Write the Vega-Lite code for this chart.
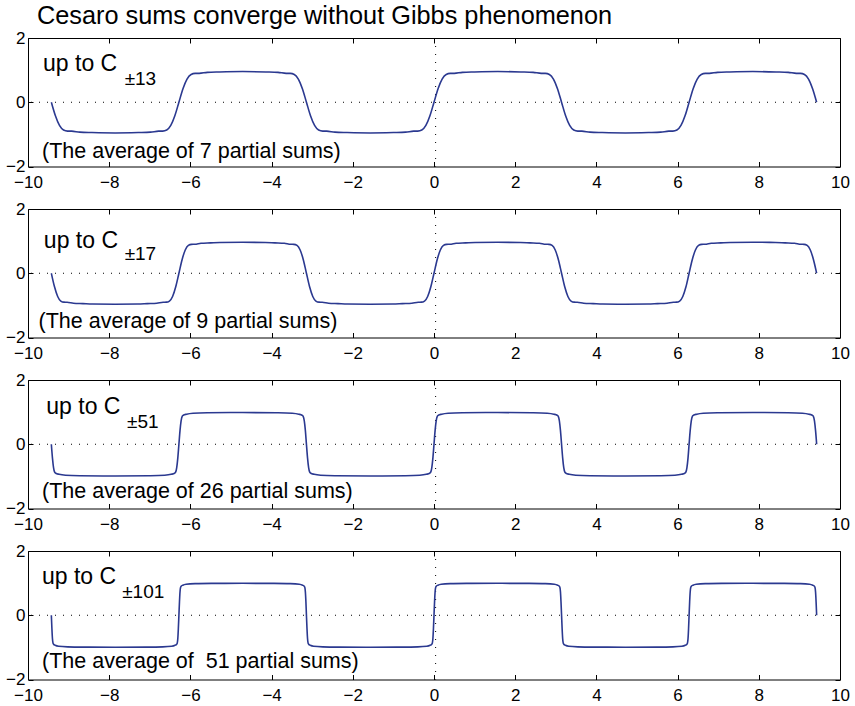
{
  "$schema": "https://vega.github.io/schema/vega-lite/v6.json",
  "padding": {"top": 3, "left": 5, "right": 5, "bottom": 5},
  "background": "white",
  "spacing": 42,
  "bounds": "flush",
  "config": {
    "font": "Liberation Sans",
    "view": {"stroke": "black", "strokeWidth": 1},
    "axis": {"domain": false, "grid": false, "ticks": true, "tickSize": -5, "tickColor": "black", "tickWidth": 1, "labelFont": "Liberation Sans", "labelFontSize": 17, "labelColor": "black", "labelFlush": false, "labelOverlap": false}
  },
  "datasets": {
    "c13": [
      {"x":-9.4248,"y":0},{"x":-9.3248,"y":-0.422},{"x":-9.2248,"y":-0.723},{"x":-9.1248,"y":-0.866},{"x":-9.0248,"y":-0.899},{"x":-8.9248,"y":-0.900},{"x":-8.7248,"y":-0.931},{"x":-8.4248,"y":-0.943},{"x":-7.854,"y":-0.955},{"x":-7.2832,"y":-0.943},{"x":-6.9832,"y":-0.931},{"x":-6.7832,"y":-0.900},{"x":-6.6832,"y":-0.899},{"x":-6.5832,"y":-0.866},{"x":-6.4832,"y":-0.723},{"x":-6.3832,"y":-0.422},
      {"x":-6.2832,"y":0},{"x":-6.1832,"y":0.422},{"x":-6.0832,"y":0.723},{"x":-5.9832,"y":0.866},{"x":-5.8832,"y":0.899},{"x":-5.7832,"y":0.900},{"x":-5.5832,"y":0.931},{"x":-5.2832,"y":0.943},{"x":-4.7124,"y":0.955},{"x":-4.1416,"y":0.943},{"x":-3.8416,"y":0.931},{"x":-3.6416,"y":0.900},{"x":-3.5416,"y":0.899},{"x":-3.4416,"y":0.866},{"x":-3.3416,"y":0.723},{"x":-3.2416,"y":0.422},
      {"x":-3.1416,"y":0},{"x":-3.0416,"y":-0.422},{"x":-2.9416,"y":-0.723},{"x":-2.8416,"y":-0.866},{"x":-2.7416,"y":-0.899},{"x":-2.6416,"y":-0.900},{"x":-2.4416,"y":-0.931},{"x":-2.1416,"y":-0.943},{"x":-1.5708,"y":-0.955},{"x":-1.0,"y":-0.943},{"x":-0.7,"y":-0.931},{"x":-0.5,"y":-0.900},{"x":-0.4,"y":-0.899},{"x":-0.3,"y":-0.866},{"x":-0.2,"y":-0.723},{"x":-0.1,"y":-0.422},
      {"x":0,"y":0},{"x":0.1,"y":0.422},{"x":0.2,"y":0.723},{"x":0.3,"y":0.866},{"x":0.4,"y":0.899},{"x":0.5,"y":0.900},{"x":0.7,"y":0.931},{"x":1.0,"y":0.943},{"x":1.5708,"y":0.955},{"x":2.1416,"y":0.943},{"x":2.4416,"y":0.931},{"x":2.6416,"y":0.900},{"x":2.7416,"y":0.899},{"x":2.8416,"y":0.866},{"x":2.9416,"y":0.723},{"x":3.0416,"y":0.422},
      {"x":3.1416,"y":0},{"x":3.2416,"y":-0.422},{"x":3.3416,"y":-0.723},{"x":3.4416,"y":-0.866},{"x":3.5416,"y":-0.899},{"x":3.6416,"y":-0.900},{"x":3.8416,"y":-0.931},{"x":4.1416,"y":-0.943},{"x":4.7124,"y":-0.955},{"x":5.2832,"y":-0.943},{"x":5.5832,"y":-0.931},{"x":5.7832,"y":-0.900},{"x":5.8832,"y":-0.899},{"x":5.9832,"y":-0.866},{"x":6.0832,"y":-0.723},{"x":6.1832,"y":-0.422},
      {"x":6.2832,"y":0},{"x":6.3832,"y":0.422},{"x":6.4832,"y":0.723},{"x":6.5832,"y":0.866},{"x":6.6832,"y":0.899},{"x":6.7832,"y":0.900},{"x":6.9832,"y":0.931},{"x":7.2832,"y":0.943},{"x":7.854,"y":0.955},{"x":8.4248,"y":0.943},{"x":8.7248,"y":0.931},{"x":8.9248,"y":0.900},{"x":9.0248,"y":0.899},{"x":9.1248,"y":0.866},{"x":9.2248,"y":0.723},{"x":9.3248,"y":0.422},{"x":9.4248,"y":0}
    ],
    "c17": [
      {"x":-9.425,"y":0},{"x":-9.347,"y":-0.422},{"x":-9.269,"y":-0.724},{"x":-9.192,"y":-0.867},{"x":-9.114,"y":-0.900},{"x":-9.036,"y":-0.901},{"x":-8.881,"y":-0.933},{"x":-8.647,"y":-0.946},{"x":-8.414,"y":-0.959},{"x":-7.854,"y":-0.965},{"x":-7.294,"y":-0.959},{"x":-7.061,"y":-0.946},{"x":-6.828,"y":-0.933},{"x":-6.672,"y":-0.901},{"x":-6.594,"y":-0.900},{"x":-6.516,"y":-0.867},{"x":-6.439,"y":-0.724},{"x":-6.361,"y":-0.422},
      {"x":-6.283,"y":0},{"x":-6.205,"y":0.422},{"x":-6.127,"y":0.724},{"x":-6.050,"y":0.867},{"x":-5.972,"y":0.900},{"x":-5.894,"y":0.901},{"x":-5.739,"y":0.933},{"x":-5.505,"y":0.946},{"x":-5.272,"y":0.959},{"x":-4.712,"y":0.965},{"x":-4.152,"y":0.959},{"x":-3.919,"y":0.946},{"x":-3.686,"y":0.933},{"x":-3.530,"y":0.901},{"x":-3.452,"y":0.900},{"x":-3.374,"y":0.867},{"x":-3.297,"y":0.724},{"x":-3.219,"y":0.422},
      {"x":-3.142,"y":0},{"x":-3.064,"y":-0.422},{"x":-2.986,"y":-0.724},{"x":-2.909,"y":-0.867},{"x":-2.831,"y":-0.900},{"x":-2.753,"y":-0.901},{"x":-2.598,"y":-0.933},{"x":-2.364,"y":-0.946},{"x":-2.131,"y":-0.959},{"x":-1.571,"y":-0.965},{"x":-1.011,"y":-0.959},{"x":-0.778,"y":-0.946},{"x":-0.544,"y":-0.933},{"x":-0.389,"y":-0.901},{"x":-0.311,"y":-0.900},{"x":-0.233,"y":-0.867},{"x":-0.156,"y":-0.724},{"x":-0.078,"y":-0.422},
      {"x":0,"y":0},{"x":0.078,"y":0.422},{"x":0.156,"y":0.724},{"x":0.233,"y":0.867},{"x":0.311,"y":0.900},{"x":0.389,"y":0.901},{"x":0.544,"y":0.933},{"x":0.778,"y":0.946},{"x":1.011,"y":0.959},{"x":1.571,"y":0.965},{"x":2.131,"y":0.959},{"x":2.364,"y":0.946},{"x":2.597,"y":0.933},{"x":2.753,"y":0.901},{"x":2.831,"y":0.900},{"x":2.909,"y":0.867},{"x":2.986,"y":0.724},{"x":3.064,"y":0.422},
      {"x":3.142,"y":0},{"x":3.220,"y":-0.422},{"x":3.298,"y":-0.724},{"x":3.375,"y":-0.867},{"x":3.453,"y":-0.900},{"x":3.531,"y":-0.901},{"x":3.686,"y":-0.933},{"x":3.920,"y":-0.946},{"x":4.153,"y":-0.959},{"x":4.713,"y":-0.965},{"x":5.273,"y":-0.959},{"x":5.506,"y":-0.946},{"x":5.739,"y":-0.933},{"x":5.895,"y":-0.901},{"x":5.973,"y":-0.900},{"x":6.051,"y":-0.867},{"x":6.128,"y":-0.724},{"x":6.206,"y":-0.422},
      {"x":6.283,"y":0},{"x":6.361,"y":0.422},{"x":6.439,"y":0.724},{"x":6.516,"y":0.867},{"x":6.594,"y":0.900},{"x":6.672,"y":0.901},{"x":6.827,"y":0.933},{"x":7.061,"y":0.946},{"x":7.294,"y":0.959},{"x":7.854,"y":0.965},{"x":8.414,"y":0.959},{"x":8.647,"y":0.946},{"x":8.880,"y":0.933},{"x":9.036,"y":0.901},{"x":9.114,"y":0.900},{"x":9.192,"y":0.867},{"x":9.269,"y":0.724},{"x":9.347,"y":0.422},{"x":9.425,"y":0}
    ],
    "c51": [
      {"x":-9.425,"y":0},{"x":-9.398,"y":-0.422},{"x":-9.371,"y":-0.725},{"x":-9.344,"y":-0.868},{"x":-9.317,"y":-0.902},{"x":-9.235,"y":-0.936},{"x":-9.075,"y":-0.966},{"x":-8.725,"y":-0.981},{"x":-7.854,"y":-0.988},{"x":-6.983,"y":-0.981},{"x":-6.633,"y":-0.966},{"x":-6.473,"y":-0.936},{"x":-6.391,"y":-0.902},{"x":-6.364,"y":-0.868},{"x":-6.337,"y":-0.725},{"x":-6.310,"y":-0.422},
      {"x":-6.283,"y":0},{"x":-6.256,"y":0.422},{"x":-6.229,"y":0.725},{"x":-6.202,"y":0.868},{"x":-6.175,"y":0.902},{"x":-6.093,"y":0.936},{"x":-5.933,"y":0.966},{"x":-5.583,"y":0.981},{"x":-4.712,"y":0.988},{"x":-3.841,"y":0.981},{"x":-3.491,"y":0.966},{"x":-3.331,"y":0.936},{"x":-3.249,"y":0.902},{"x":-3.222,"y":0.868},{"x":-3.195,"y":0.725},{"x":-3.168,"y":0.422},
      {"x":-3.142,"y":0},{"x":-3.115,"y":-0.422},{"x":-3.088,"y":-0.725},{"x":-3.061,"y":-0.868},{"x":-3.034,"y":-0.902},{"x":-2.952,"y":-0.936},{"x":-2.792,"y":-0.966},{"x":-2.442,"y":-0.981},{"x":-1.571,"y":-0.988},{"x":-0.7,"y":-0.981},{"x":-0.35,"y":-0.966},{"x":-0.19,"y":-0.936},{"x":-0.108,"y":-0.902},{"x":-0.081,"y":-0.868},{"x":-0.054,"y":-0.725},{"x":-0.027,"y":-0.422},
      {"x":0,"y":0},{"x":0.027,"y":0.422},{"x":0.054,"y":0.725},{"x":0.081,"y":0.868},{"x":0.108,"y":0.902},{"x":0.19,"y":0.936},{"x":0.35,"y":0.966},{"x":0.7,"y":0.981},{"x":1.571,"y":0.988},{"x":2.442,"y":0.981},{"x":2.792,"y":0.966},{"x":2.952,"y":0.936},{"x":3.034,"y":0.902},{"x":3.061,"y":0.868},{"x":3.088,"y":0.725},{"x":3.115,"y":0.422},
      {"x":3.142,"y":0},{"x":3.169,"y":-0.422},{"x":3.196,"y":-0.725},{"x":3.223,"y":-0.868},{"x":3.250,"y":-0.902},{"x":3.332,"y":-0.936},{"x":3.492,"y":-0.966},{"x":3.842,"y":-0.981},{"x":4.713,"y":-0.988},{"x":5.584,"y":-0.981},{"x":5.934,"y":-0.966},{"x":6.094,"y":-0.936},{"x":6.176,"y":-0.902},{"x":6.203,"y":-0.868},{"x":6.230,"y":-0.725},{"x":6.257,"y":-0.422},
      {"x":6.283,"y":0},{"x":6.310,"y":0.422},{"x":6.337,"y":0.725},{"x":6.364,"y":0.868},{"x":6.391,"y":0.902},{"x":6.473,"y":0.936},{"x":6.633,"y":0.966},{"x":6.983,"y":0.981},{"x":7.854,"y":0.988},{"x":8.725,"y":0.981},{"x":9.075,"y":0.966},{"x":9.235,"y":0.936},{"x":9.317,"y":0.902},{"x":9.344,"y":0.868},{"x":9.371,"y":0.725},{"x":9.398,"y":0.422},{"x":9.425,"y":0}
    ],
    "c101": [
      {"x":-9.425,"y":0},{"x":-9.411,"y":-0.422},{"x":-9.398,"y":-0.725},{"x":-9.384,"y":-0.868},{"x":-9.370,"y":-0.902},{"x":-9.329,"y":-0.936},{"x":-9.247,"y":-0.966},{"x":-9.025,"y":-0.984},{"x":-8.625,"y":-0.991},{"x":-7.854,"y":-0.994},{"x":-7.083,"y":-0.991},{"x":-6.683,"y":-0.984},{"x":-6.461,"y":-0.966},{"x":-6.379,"y":-0.936},{"x":-6.338,"y":-0.902},{"x":-6.324,"y":-0.868},{"x":-6.310,"y":-0.725},{"x":-6.297,"y":-0.422},
      {"x":-6.283,"y":0},{"x":-6.269,"y":0.422},{"x":-6.256,"y":0.725},{"x":-6.242,"y":0.868},{"x":-6.228,"y":0.902},{"x":-6.187,"y":0.936},{"x":-6.105,"y":0.966},{"x":-5.883,"y":0.984},{"x":-5.483,"y":0.991},{"x":-4.712,"y":0.994},{"x":-3.941,"y":0.991},{"x":-3.541,"y":0.984},{"x":-3.319,"y":0.966},{"x":-3.237,"y":0.936},{"x":-3.196,"y":0.902},{"x":-3.182,"y":0.868},{"x":-3.168,"y":0.725},{"x":-3.155,"y":0.422},
      {"x":-3.142,"y":0},{"x":-3.128,"y":-0.422},{"x":-3.115,"y":-0.725},{"x":-3.101,"y":-0.868},{"x":-3.087,"y":-0.902},{"x":-3.046,"y":-0.936},{"x":-2.964,"y":-0.966},{"x":-2.742,"y":-0.984},{"x":-2.342,"y":-0.991},{"x":-1.571,"y":-0.994},{"x":-0.8,"y":-0.991},{"x":-0.4,"y":-0.984},{"x":-0.178,"y":-0.966},{"x":-0.096,"y":-0.936},{"x":-0.055,"y":-0.902},{"x":-0.041,"y":-0.868},{"x":-0.027,"y":-0.725},{"x":-0.014,"y":-0.422},
      {"x":0,"y":0},{"x":0.014,"y":0.422},{"x":0.027,"y":0.725},{"x":0.041,"y":0.868},{"x":0.055,"y":0.902},{"x":0.096,"y":0.936},{"x":0.178,"y":0.966},{"x":0.4,"y":0.984},{"x":0.8,"y":0.991},{"x":1.571,"y":0.994},{"x":2.342,"y":0.991},{"x":2.742,"y":0.984},{"x":2.964,"y":0.966},{"x":3.046,"y":0.936},{"x":3.087,"y":0.902},{"x":3.101,"y":0.868},{"x":3.115,"y":0.725},{"x":3.128,"y":0.422},
      {"x":3.142,"y":0},{"x":3.156,"y":-0.422},{"x":3.169,"y":-0.725},{"x":3.183,"y":-0.868},{"x":3.197,"y":-0.902},{"x":3.238,"y":-0.936},{"x":3.320,"y":-0.966},{"x":3.542,"y":-0.984},{"x":3.942,"y":-0.991},{"x":4.713,"y":-0.994},{"x":5.484,"y":-0.991},{"x":5.884,"y":-0.984},{"x":6.106,"y":-0.966},{"x":6.188,"y":-0.936},{"x":6.229,"y":-0.902},{"x":6.243,"y":-0.868},{"x":6.257,"y":-0.725},{"x":6.270,"y":-0.422},
      {"x":6.283,"y":0},{"x":6.297,"y":0.422},{"x":6.310,"y":0.725},{"x":6.324,"y":0.868},{"x":6.338,"y":0.902},{"x":6.379,"y":0.936},{"x":6.461,"y":0.966},{"x":6.683,"y":0.984},{"x":7.083,"y":0.991},{"x":7.854,"y":0.994},{"x":8.625,"y":0.991},{"x":9.025,"y":0.984},{"x":9.247,"y":0.966},{"x":9.329,"y":0.936},{"x":9.370,"y":0.902},{"x":9.384,"y":0.868},{"x":9.398,"y":0.725},{"x":9.411,"y":0.422},{"x":9.425,"y":0}
    ]
  },
  "vconcat": [
    {
      "width": 812, "height": 128.5,
      "layer": [
        {"data": {"values": [{}]}, "mark": {"type": "rule", "color": "black", "strokeWidth": 1, "strokeDash": [1, 7]}, "encoding": {"y": {"datum": 0, "type": "quantitative", "scale": {"domain": [-2, 2]}, "axis": {"orient": "right", "values": [-2, 0, 2], "labels": false, "title": null}}}},
        {"data": {"values": [{}]}, "mark": {"type": "rule", "color": "black", "strokeWidth": 1, "strokeDash": [1, 7]}, "encoding": {"x": {"datum": 0.04, "type": "quantitative", "scale": {"domain": [-10, 10]}, "axis": {"orient": "top", "values": [-10, -8, -6, -4, -2, 0, 2, 4, 6, 8, 10], "labels": false, "title": null}}}},
        {"data": {"name": "c13"}, "mark": {"type": "line", "interpolate": "monotone", "color": "#2b3990", "strokeWidth": 1.6},
         "encoding": {
           "x": {"field": "x", "type": "quantitative", "scale": {"domain": [-10, 10]}, "axis": {"orient": "bottom", "values": [-10, -8, -6, -4, -2, 0, 2, 4, 6, 8, 10], "title": null, "labelPadding": 13, "encode": {"labels": {"update": {"dx": {"signal": "datum.value < 0 ? -5 : 0"}}}}}},
           "y": {"field": "y", "type": "quantitative", "scale": {"domain": [-2, 2]}, "axis": {"orient": "left", "values": [-2, 0, 2], "title": null, "labelPadding": 8}}
         }},
        {"data": {"values": [{}]}, "mark": {"type": "text", "text": "Cesaro sums converge without Gibbs phenomenon", "align": "left", "baseline": "alphabetic", "font": "Liberation Sans", "fontSize": 25.3, "color": "black"}, "encoding": {"x": {"datum": -9.78, "type": "quantitative", "scale": {"domain": [-10, 10]}, "axis": null}, "y": {"datum": 2.44, "type": "quantitative", "scale": {"domain": [-2, 2]}, "axis": null}}},
        {"data": {"values": [{}]}, "mark": {"type": "text", "text": "up to C", "align": "left", "baseline": "alphabetic", "font": "Liberation Sans", "fontSize": 23, "color": "black"}, "encoding": {"x": {"datum": -9.63, "type": "quantitative", "scale": {"domain": [-10, 10]}, "axis": null}, "y": {"datum": 0.96, "type": "quantitative", "scale": {"domain": [-2, 2]}, "axis": null}}},
        {"data": {"values": [{}]}, "mark": {"type": "text", "text": "±13", "align": "left", "baseline": "alphabetic", "font": "Liberation Sans", "fontSize": 19, "color": "black"}, "encoding": {"x": {"datum": -7.62, "type": "quantitative", "scale": {"domain": [-10, 10]}, "axis": null}, "y": {"datum": 0.54, "type": "quantitative", "scale": {"domain": [-2, 2]}, "axis": null}}},
        {"data": {"values": [{}]}, "mark": {"type": "text", "text": "(The average of 7 partial sums)", "align": "left", "baseline": "alphabetic", "font": "Liberation Sans", "fontSize": 21.5, "color": "black"}, "encoding": {"x": {"datum": -9.655, "type": "quantitative", "scale": {"domain": [-10, 10]}, "axis": null}, "y": {"datum": -1.72, "type": "quantitative", "scale": {"domain": [-2, 2]}, "axis": null}}}
      ],
      "resolve": {"axis": {"x": "independent", "y": "independent"}}
    },
    {
      "width": 812, "height": 128.5,
      "layer": [
        {"data": {"values": [{}]}, "mark": {"type": "rule", "color": "black", "strokeWidth": 1, "strokeDash": [1, 7]}, "encoding": {"y": {"datum": 0, "type": "quantitative", "scale": {"domain": [-2, 2]}, "axis": {"orient": "right", "values": [-2, 0, 2], "labels": false, "title": null}}}},
        {"data": {"values": [{}]}, "mark": {"type": "rule", "color": "black", "strokeWidth": 1, "strokeDash": [1, 7]}, "encoding": {"x": {"datum": 0.04, "type": "quantitative", "scale": {"domain": [-10, 10]}, "axis": {"orient": "top", "values": [-10, -8, -6, -4, -2, 0, 2, 4, 6, 8, 10], "labels": false, "title": null}}}},
        {"data": {"name": "c17"}, "mark": {"type": "line", "interpolate": "monotone", "color": "#2b3990", "strokeWidth": 1.6},
         "encoding": {
           "x": {"field": "x", "type": "quantitative", "scale": {"domain": [-10, 10]}, "axis": {"orient": "bottom", "values": [-10, -8, -6, -4, -2, 0, 2, 4, 6, 8, 10], "title": null, "labelPadding": 13, "encode": {"labels": {"update": {"dx": {"signal": "datum.value < 0 ? -5 : 0"}}}}}},
           "y": {"field": "y", "type": "quantitative", "scale": {"domain": [-2, 2]}, "axis": {"orient": "left", "values": [-2, 0, 2], "title": null, "labelPadding": 8}}
         }},
        {"data": {"values": [{}]}, "mark": {"type": "text", "text": "up to C", "align": "left", "baseline": "alphabetic", "font": "Liberation Sans", "fontSize": 23, "color": "black"}, "encoding": {"x": {"datum": -9.61, "type": "quantitative", "scale": {"domain": [-10, 10]}, "axis": null}, "y": {"datum": 0.79, "type": "quantitative", "scale": {"domain": [-2, 2]}, "axis": null}}},
        {"data": {"values": [{}]}, "mark": {"type": "text", "text": "±17", "align": "left", "baseline": "alphabetic", "font": "Liberation Sans", "fontSize": 19, "color": "black"}, "encoding": {"x": {"datum": -7.62, "type": "quantitative", "scale": {"domain": [-10, 10]}, "axis": null}, "y": {"datum": 0.41, "type": "quantitative", "scale": {"domain": [-2, 2]}, "axis": null}}},
        {"data": {"values": [{}]}, "mark": {"type": "text", "text": "(The average of 9 partial sums)", "align": "left", "baseline": "alphabetic", "font": "Liberation Sans", "fontSize": 21.5, "color": "black"}, "encoding": {"x": {"datum": -9.74, "type": "quantitative", "scale": {"domain": [-10, 10]}, "axis": null}, "y": {"datum": -1.69, "type": "quantitative", "scale": {"domain": [-2, 2]}, "axis": null}}}
      ],
      "resolve": {"axis": {"x": "independent", "y": "independent"}}
    },
    {
      "width": 812, "height": 128.5,
      "layer": [
        {"data": {"values": [{}]}, "mark": {"type": "rule", "color": "black", "strokeWidth": 1, "strokeDash": [1, 7]}, "encoding": {"y": {"datum": 0, "type": "quantitative", "scale": {"domain": [-2, 2]}, "axis": {"orient": "right", "values": [-2, 0, 2], "labels": false, "title": null}}}},
        {"data": {"values": [{}]}, "mark": {"type": "rule", "color": "black", "strokeWidth": 1, "strokeDash": [1, 7]}, "encoding": {"x": {"datum": 0.04, "type": "quantitative", "scale": {"domain": [-10, 10]}, "axis": {"orient": "top", "values": [-10, -8, -6, -4, -2, 0, 2, 4, 6, 8, 10], "labels": false, "title": null}}}},
        {"data": {"name": "c51"}, "mark": {"type": "line", "interpolate": "monotone", "color": "#2b3990", "strokeWidth": 1.6},
         "encoding": {
           "x": {"field": "x", "type": "quantitative", "scale": {"domain": [-10, 10]}, "axis": {"orient": "bottom", "values": [-10, -8, -6, -4, -2, 0, 2, 4, 6, 8, 10], "title": null, "labelPadding": 13, "encode": {"labels": {"update": {"dx": {"signal": "datum.value < 0 ? -5 : 0"}}}}}},
           "y": {"field": "y", "type": "quantitative", "scale": {"domain": [-2, 2]}, "axis": {"orient": "left", "values": [-2, 0, 2], "title": null, "labelPadding": 8}}
         }},
        {"data": {"values": [{}]}, "mark": {"type": "text", "text": "up to C", "align": "left", "baseline": "alphabetic", "font": "Liberation Sans", "fontSize": 23, "color": "black"}, "encoding": {"x": {"datum": -9.55, "type": "quantitative", "scale": {"domain": [-10, 10]}, "axis": null}, "y": {"datum": 0.93, "type": "quantitative", "scale": {"domain": [-2, 2]}, "axis": null}}},
        {"data": {"values": [{}]}, "mark": {"type": "text", "text": "±51", "align": "left", "baseline": "alphabetic", "font": "Liberation Sans", "fontSize": 19, "color": "black"}, "encoding": {"x": {"datum": -7.56, "type": "quantitative", "scale": {"domain": [-10, 10]}, "axis": null}, "y": {"datum": 0.5, "type": "quantitative", "scale": {"domain": [-2, 2]}, "axis": null}}},
        {"data": {"values": [{}]}, "mark": {"type": "text", "text": "(The average of 26 partial sums)", "align": "left", "baseline": "alphabetic", "font": "Liberation Sans", "fontSize": 21.5, "color": "black"}, "encoding": {"x": {"datum": -9.655, "type": "quantitative", "scale": {"domain": [-10, 10]}, "axis": null}, "y": {"datum": -1.68, "type": "quantitative", "scale": {"domain": [-2, 2]}, "axis": null}}}
      ],
      "resolve": {"axis": {"x": "independent", "y": "independent"}}
    },
    {
      "width": 812, "height": 128.5,
      "layer": [
        {"data": {"values": [{}]}, "mark": {"type": "rule", "color": "black", "strokeWidth": 1, "strokeDash": [1, 7]}, "encoding": {"y": {"datum": 0, "type": "quantitative", "scale": {"domain": [-2, 2]}, "axis": {"orient": "right", "values": [-2, 0, 2], "labels": false, "title": null}}}},
        {"data": {"values": [{}]}, "mark": {"type": "rule", "color": "black", "strokeWidth": 1, "strokeDash": [1, 7]}, "encoding": {"x": {"datum": 0.04, "type": "quantitative", "scale": {"domain": [-10, 10]}, "axis": {"orient": "top", "values": [-10, -8, -6, -4, -2, 0, 2, 4, 6, 8, 10], "labels": false, "title": null}}}},
        {"data": {"name": "c101"}, "mark": {"type": "line", "interpolate": "monotone", "color": "#2b3990", "strokeWidth": 1.6},
         "encoding": {
           "x": {"field": "x", "type": "quantitative", "scale": {"domain": [-10, 10]}, "axis": {"orient": "bottom", "values": [-10, -8, -6, -4, -2, 0, 2, 4, 6, 8, 10], "title": null, "labelPadding": 13, "encode": {"labels": {"update": {"dx": {"signal": "datum.value < 0 ? -5 : 0"}}}}}},
           "y": {"field": "y", "type": "quantitative", "scale": {"domain": [-2, 2]}, "axis": {"orient": "left", "values": [-2, 0, 2], "title": null, "labelPadding": 8}}
         }},
        {"data": {"values": [{}]}, "mark": {"type": "text", "text": "up to C", "align": "left", "baseline": "alphabetic", "font": "Liberation Sans", "fontSize": 23, "color": "black"}, "encoding": {"x": {"datum": -9.655, "type": "quantitative", "scale": {"domain": [-10, 10]}, "axis": null}, "y": {"datum": 0.96, "type": "quantitative", "scale": {"domain": [-2, 2]}, "axis": null}}},
        {"data": {"values": [{}]}, "mark": {"type": "text", "text": "±101", "align": "left", "baseline": "alphabetic", "font": "Liberation Sans", "fontSize": 19, "color": "black"}, "encoding": {"x": {"datum": -7.68, "type": "quantitative", "scale": {"domain": [-10, 10]}, "axis": null}, "y": {"datum": 0.54, "type": "quantitative", "scale": {"domain": [-2, 2]}, "axis": null}}},
        {"data": {"values": [{}]}, "mark": {"type": "text", "text": "(The average of\u00a0 51 partial sums)", "align": "left", "baseline": "alphabetic", "font": "Liberation Sans", "fontSize": 21.5, "color": "black"}, "encoding": {"x": {"datum": -9.655, "type": "quantitative", "scale": {"domain": [-10, 10]}, "axis": null}, "y": {"datum": -1.65, "type": "quantitative", "scale": {"domain": [-2, 2]}, "axis": null}}}
      ],
      "resolve": {"axis": {"x": "independent", "y": "independent"}}
    }
  ]
}
